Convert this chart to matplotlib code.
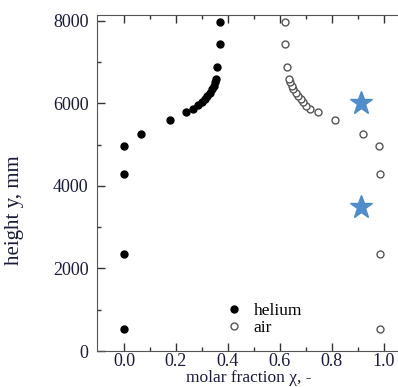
import numpy as np
import matplotlib
matplotlib.use("Agg")
import matplotlib.pyplot as plt

#Data
helium_x = [0.0, 0.0, 0.0, 0.0, 0.067, 0.175, 0.24, 0.267, 0.286, 0.30, 0.31, 0.32,
            0.33, 0.34, 0.345, 0.35, 0.353, 0.357, 0.369, 0.369]
helium_y = [530, 2350, 4300, 4960, 5260, 5600, 5800, 5870, 5960, 6030, 6100, 6180,
            6260, 6350, 6430, 6520, 6600, 6880, 7440, 7980]
air_x = [0.985, 0.985, 0.985, 0.98, 0.92, 0.81, 0.745, 0.715, 0.70, 0.69, 0.68, 0.67,
         0.66, 0.65, 0.645, 0.64, 0.635, 0.627, 0.62, 0.62]
air_y = [530, 2350, 4300, 4960, 5260, 5600, 5790, 5870, 5940, 6030, 6100, 6180,
         6260, 6350, 6430, 6520, 6600, 6880, 7440, 7980]
star_x = [0.91, 0.91]
star_y = [6000, 3480]

plt.rcParams['font.family'] = ['Liberation Serif', 'DejaVu Serif']

fig = plt.figure(figsize=(3.98, 3.87), dpi=100)
W, H = 398, 387
ax = fig.add_axes([97 / W, (H - 351) / H, (400 - 97) / W, (351 - 15) / H])

ax.plot(helium_x, helium_y, 'o', color='black', ms=5, label='helium')
ax.plot(air_x, air_y, 'o', mfc='white', mec='#555555', mew=1.0, ms=5, label='air')
ax.plot(star_x, star_y, '*', color='#4f8ccc', ms=17, mec='#4f8ccc')

ax.set_xlim(-0.104, 1.062)
ax.set_ylim(0, 8145)
ax.set_xticks([0.0, 0.2, 0.4, 0.6, 0.8, 1.0])
ax.set_xticklabels(['0.0', '0.2', '0.4', '0.6', '0.8', '1.0'])
ax.set_xticks(np.arange(0.1, 1.0, 0.2), minor=True)
ax.set_yticks([0, 2000, 4000, 6000, 8000])
ax.set_yticks([1000, 3000, 5000, 7000], minor=True)

ax.tick_params(which='both', direction='in', top=True, right=False,
               labelsize=13, colors='#333333', labelcolor='#1a1a3a', width=1)
ax.tick_params(which='major', length=6)
ax.tick_params(which='minor', length=3)
ax.tick_params(axis='x', which='major', pad=1.5)
ax.tick_params(axis='y', which='major', pad=6)
ax.spines['right'].set_visible(False)
for s in ['left', 'bottom', 'top']:
    ax.spines[s].set_color('#555555')

ax.set_ylabel('height y, mm', fontsize=15, color='#1a1a3a')
ax.yaxis.set_label_coords(-0.24, 0.42)
ax.set_xlabel('molar fraction χ, -', fontsize=12.5, color='#1a1a3a')
ax.xaxis.set_label_coords(0.50, -0.058)

ax.legend(loc='lower left', bbox_to_anchor=(0.39, 0.02), frameon=False,
          fontsize=12.5, handletextpad=0.5, labelspacing=0.0, borderpad=0,
          handlelength=1.2)

fig.savefig('out.png', dpi=100)
